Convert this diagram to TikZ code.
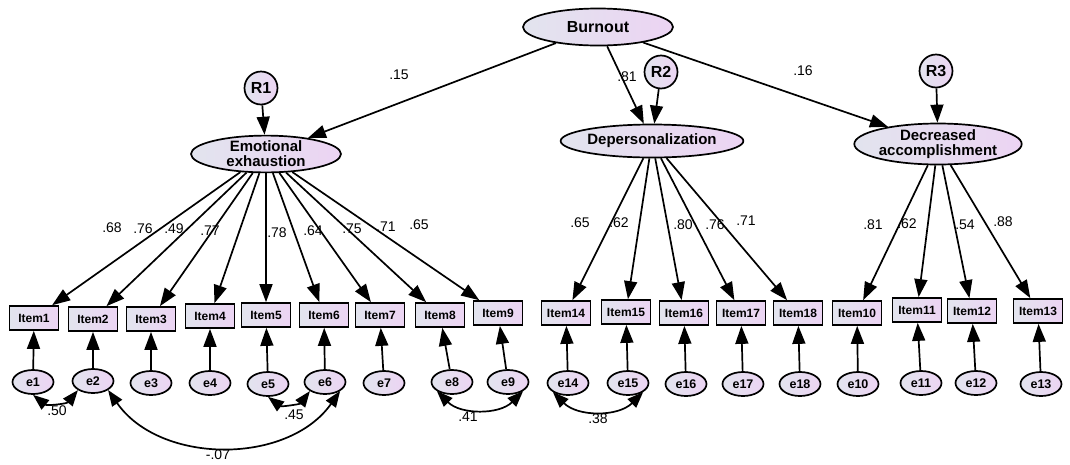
\documentclass[tikz,border=0pt]{standalone}
\usepackage{fontspec}
\setmainfont{Liberation Sans}
\usetikzlibrary{shapes.geometric,arrows.meta}
\definecolor{amosL}{RGB}{226,228,238}
\definecolor{amosR}{RGB}{236,212,243}
\tikzset{
	latent/.style={ellipse,draw,line width=1.7pt,left color=amosL,right color=amosR,
		inner sep=0pt,font=\bfseries\fontsize{15}{15}\selectfont,align=center},
	resid/.style={circle,draw,line width=1.7pt,left color=amosL,right color=amosR,
		minimum size=33pt,inner sep=0pt,font=\bfseries\fontsize{16}{16}\selectfont},
	itembox/.style={rectangle,draw,line width=1.7pt,left color=amosL,right color=amosR,
		minimum width=49pt,minimum height=24pt,inner sep=0pt,font=\bfseries\fontsize{12}{12}\selectfont},
	err/.style={ellipse,draw,line width=1.7pt,left color=amosL,right color=amosR,
		minimum width=41pt,minimum height=24pt,inner sep=0pt,font=\bfseries\fontsize{12.5}{12.5}\selectfont},
	arr/.style={line width=1.7pt,-{Triangle[length=18pt,width=13pt]}},
	cov/.style={line width=1.7pt,{Triangle[length=16pt,width=12pt]}-{Triangle[length=16pt,width=12pt]}},
	wt/.style={font=\fontsize{14}{14}\selectfont,inner sep=0pt}
}
\begin{document}
\begin{tikzpicture}[x=1pt,y=-1pt]
		\useasboundingbox (0,0) rectangle (1070,464);
		% latent variables
		\node[latent,minimum width=150pt,minimum height=37pt,font=\bfseries\fontsize{16}{16}\selectfont] (burn) at (598,27) {Burnout};
		\node[latent,minimum width=150pt,minimum height=36pt] (emo) at (266,154) {Emotional\\exhaustion};
		\node[latent,minimum width=152pt,minimum height=33pt] (dep) at (652,141) {Depersonalization};
		\node[latent,minimum width=152pt,minimum height=39pt] (dec) at (938,144) {Decreased\\accomplishment};
		\node[resid] (r1) at (261,88) {R1};
		\node[resid] (r2) at (661,72) {R2};
		\node[resid] (r3) at (936,71) {R3};
		% observed items
		\node[itembox] (i1) at (34,318) {Item1};
		\node[itembox] (i2) at (93,319) {Item2};
		\node[itembox] (i3) at (151,319) {Item3};
		\node[itembox] (i4) at (210,316) {Item4};
		\node[itembox] (i5) at (266,315) {Item5};
		\node[itembox] (i6) at (324,315) {Item6};
		\node[itembox] (i7) at (380,315) {Item7};
		\node[itembox] (i8) at (440,315) {Item8};
		\node[itembox] (i9) at (498,313) {Item9};
		\node[itembox] (i14) at (566,313) {Item14};
		\node[itembox] (i15) at (626,312) {Item15};
		\node[itembox] (i16) at (684,313) {Item16};
		\node[itembox] (i17) at (741,313) {Item17};
		\node[itembox] (i18) at (798,313) {Item18};
		\node[itembox] (i10) at (857,313) {Item10};
		\node[itembox] (i11) at (917,310) {Item11};
		\node[itembox] (i12) at (972,311) {Item12};
		\node[itembox] (i13) at (1038,311) {Item13};
		% errors
		\node[err] (e1) at (33,382) {e1};
		\node[err] (e2) at (93,381) {e2};
		\node[err] (e3) at (151,383) {e3};
		\node[err] (e4) at (210,383) {e4};
		\node[err] (e5) at (268,384) {e5};
		\node[err] (e6) at (325,382) {e6};
		\node[err] (e7) at (384,383) {e7};
		\node[err] (e8) at (452,382) {e8};
		\node[err] (e9) at (508,382) {e9};
		\node[err] (e14) at (568,383) {e14};
		\node[err] (e15) at (628,383) {e15};
		\node[err] (e16) at (686,384) {e16};
		\node[err] (e17) at (743,384) {e17};
		\node[err] (e18) at (800,384) {e18};
		\node[err] (e10) at (858,384) {e10};
		\node[err] (e11) at (921,383) {e11};
		\node[err] (e12) at (976,383) {e12};
		\node[err] (e13) at (1041,384) {e13};
		% structural paths
		\draw[arr] (burn) -- (emo);
		\draw[arr] (burn) -- (dep);
		\draw[arr] (burn) -- (dec);
		\draw[arr] (r1) -- (emo);
		\draw[arr] (r2) -- (dep);
		\draw[arr] (r3) -- (dec);
		\node[wt] (w01) at (399,75) {.15};
		\node[wt] (w02) at (627,77) {.81};
		\node[wt] (w03) at (803,71) {.16};
		% loadings
		\draw[arr] (emo) -- (i1);
		\draw[arr] (emo) -- (i2);
		\draw[arr] (emo) -- (i3);
		\draw[arr] (emo) -- (i4);
		\draw[arr] (emo) -- (i5);
		\draw[arr] (emo) -- (i6);
		\draw[arr] (emo) -- (i7);
		\draw[arr] (emo) -- (i8);
		\draw[arr] (emo) -- (i9);
		\draw[arr] (dep) -- (i14);
		\draw[arr] (dep) -- (i15);
		\draw[arr] (dep) -- (i16);
		\draw[arr] (dep) -- (i17);
		\draw[arr] (dep) -- (i18);
		\draw[arr] (dec) -- (i10);
		\draw[arr] (dec) -- (i11);
		\draw[arr] (dec) -- (i12);
		\draw[arr] (dec) -- (i13);
		\node[wt] (w1) at (112,228) {.68};
		\node[wt] (w2) at (143,229) {.76};
		\node[wt] (w3) at (174,229) {.49};
		\node[wt] (w4) at (210,231) {.77};
		\node[wt] (w5) at (277,233) {.78};
		\node[wt] (w6) at (313,231) {.64};
		\node[wt] (w7) at (352,229) {.75};
		\node[wt] (w8) at (386,227) {.71};
		\node[wt] (w9) at (419,225) {.65};
		\node[wt] (w14) at (580,223) {.65};
		\node[wt] (w15) at (619,223) {.62};
		\node[wt] (w16) at (683,225) {.80};
		\node[wt] (w17) at (715,225) {.76};
		\node[wt] (w18) at (746,221) {.71};
		\node[wt] (w10) at (873,225) {.81};
		\node[wt] (w11) at (907,224) {.62};
		\node[wt] (w12) at (965,225) {.54};
		\node[wt] (w13) at (1003,222) {.88};
		% error paths
		\draw[arr] (e1) -- (i1);
		\draw[arr] (e2) -- (i2);
		\draw[arr] (e3) -- (i3);
		\draw[arr] (e4) -- (i4);
		\draw[arr] (e5) -- (i5);
		\draw[arr] (e6) -- (i6);
		\draw[arr] (e7) -- (i7);
		\draw[arr] (e8) -- (i8);
		\draw[arr] (e9) -- (i9);
		\draw[arr] (e14) -- (i14);
		\draw[arr] (e15) -- (i15);
		\draw[arr] (e16) -- (i16);
		\draw[arr] (e17) -- (i17);
		\draw[arr] (e18) -- (i18);
		\draw[arr] (e10) -- (i10);
		\draw[arr] (e11) -- (i11);
		\draw[arr] (e12) -- (i12);
		\draw[arr] (e13) -- (i13);
		% covariances
		\draw[cov] (e1.south) to[bend right=45] (e2.south west);
		\draw[cov] (e5.south) to[bend right=45] (e6.south west);
		\draw[cov] (e2.south east) to[bend right=55] (e6.south east);
		\draw[cov] (e8.south west) to[bend right=45] (e9.south east);
		\draw[cov] (e14.south west) to[bend right=45] (e15.south east);
		\node[wt] (c1) at (57,411) {.50};
		\node[wt] (c2) at (294,415) {.45};
		\node[wt] (c3) at (218,455) {-.07};
		\node[wt] (c4) at (468,417) {.41};
		\node[wt] (c5) at (598,419) {.38};
	\end{tikzpicture}
\end{document}
